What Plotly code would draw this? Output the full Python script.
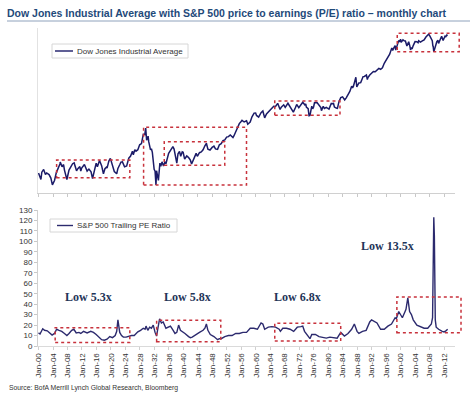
import plotly.graph_objects as go

# ---------------- data ----------------
dow_dates = [
 "1900-01","1900-06","1900-09","1900-12","1901-06","1901-12","1902-04","1902-12","1903-06","1903-11",
 "1904-06","1904-12","1905-06","1905-12","1906-01","1906-07","1906-12","1907-03","1907-11","1908-06",
 "1908-12","1909-06","1909-11","1910-07","1910-12","1911-06","1911-09","1911-12","1912-09","1912-12",
 "1913-06","1913-12","1914-07","1914-12","1915-06","1915-12","1916-04","1916-11","1917-06","1917-12",
 "1918-05","1918-10","1918-12","1919-06","1919-11","1920-04","1920-08","1920-12","1921-08","1921-12",
 "1922-06","1922-10","1923-03","1923-10","1924-05","1924-12","1925-06","1925-12","1926-03","1926-08",
 "1926-12","1927-06","1927-12","1928-06","1928-12","1929-05","1929-08","1929-11","1930-04","1930-06",
 "1930-12","1931-03","1931-06","1931-09","1931-12","1932-03","1932-06","1932-08","1932-12","1933-02",
 "1933-07","1933-10","1934-02","1934-07","1934-12","1935-03","1935-12","1936-06","1936-12","1937-02",
 "1937-06","1937-11","1938-03","1938-07","1938-12","1939-04","1939-09","1939-12","1940-05","1940-12",
 "1941-06","1941-12","1942-04","1942-12","1943-07","1943-11","1944-06","1944-12","1945-06","1945-12",
 "1946-05","1946-10","1947-05","1947-12","1948-06","1948-11","1949-06","1949-12","1950-06","1950-12",
 "1951-06","1951-12","1952-06","1952-12","1953-09","1953-12","1954-06","1954-12","1955-06","1955-12",
 "1956-03","1956-10","1957-06","1957-10","1958-06","1958-12","1959-07","1959-12","1960-03","1960-10",
 "1960-12","1961-06","1961-12","1962-06","1962-12","1963-06","1963-12","1964-06","1964-12","1965-06",
 "1965-12","1966-01","1966-09","1967-01","1967-09","1968-02","1968-11","1969-06","1969-12","1970-05",
 "1970-12","1971-04","1971-11","1972-06","1972-12","1973-07","1973-10","1973-12","1974-06","1974-09",
 "1974-12","1975-06","1975-09","1975-12","1976-03","1976-12","1977-06","1977-12","1978-02","1978-08",
 "1978-12","1979-06","1979-10","1980-03","1980-11","1980-12","1981-06","1981-09","1982-03","1982-07",
 "1982-12","1983-06","1983-12","1984-07","1984-12","1985-06","1985-12","1986-06","1986-09","1986-12",
 "1987-08","1987-11","1988-06","1988-12","1989-08","1989-12","1990-07","1990-10","1990-12","1991-06",
 "1991-12","1992-06","1992-12","1993-12","1994-06","1994-12","1995-06","1995-12","1996-06","1996-12",
 "1997-07","1997-10","1997-12","1998-06","1998-08","1998-12","1999-06","1999-09","1999-12","2000-02",
 "2000-08","2000-12","2001-04","2001-09","2001-12","2002-03","2002-07","2002-09","2002-12","2003-02",
 "2003-06","2003-12","2004-06","2004-10","2004-12","2005-06","2005-12","2006-06","2006-12","2007-06",
 "2007-09","2007-12","2008-03","2008-06","2008-09","2008-11","2008-12","2009-02","2009-06","2009-12",
 "2010-04","2010-06","2010-12","2011-04","2011-09","2011-12","2012-04","2012-05","2012-09","2012-12",
]
dow_values = [
 68,56,53,70,78,64,68,64,56,43,
 51,69,80,96,103,86,94,76,53,76,
 86,97,100,74,81,87,73,82,94,88,
 73,79,71,55,76,99,86,110,90,66,
 80,85,82,107,119,94,84,72,66,81,
 93,103,104,86,89,120,130,156,137,166,
 157,166,200,210,300,297,380,238,279,226,
 165,172,150,97,78,73,43,74,60,51,
 99,88,104,89,104,97,144,158,180,187,
 170,119,99,142,155,129,153,150,116,131,
 123,111,96,119,144,129,148,152,165,193,
 212,169,164,181,190,171,168,200,209,235,
 242,269,274,291,264,281,334,404,451,488,
 511,480,503,441,478,584,675,679,617,580,
 616,684,731,561,652,707,763,817,874,868,
 969,983,774,850,927,840,985,873,800,700,
 838,941,831,929,1020,926,956,851,802,608,
 616,879,794,852,1000,1005,916,831,742,877,
 805,842,816,786,993,964,977,850,822,809,
 1047,1222,1259,1115,1212,1336,1547,1893,1768,1896,
 2663,1834,2141,2169,2737,2753,2905,2442,2634,2907,
 3169,3319,3301,3754,3625,3834,4556,5117,5655,6448,
 8223,7442,7908,8952,7539,9181,10971,10337,11497,10128,
 11215,10788,10735,8848,10022,10404,8737,7592,8342,7891,
 8985,10454,10435,10027,10783,10275,10718,11150,12463,13409,
 13896,13265,12263,11350,10851,8829,8776,7063,8447,10428,
 11009,9774,11578,12811,10913,12218,13214,12393,13437,13104,
]

pe_dates = [
 "1900-01","1900-06","1901-03","1901-09","1902-06","1903-03","1903-10","1904-06","1905-01","1905-09",
 "1906-06","1907-03","1907-11","1908-06","1909-03","1909-10","1910-06","1911-03","1911-09","1912-06",
 "1913-06","1914-06","1915-03","1915-12","1916-09","1917-06","1918-03","1918-12","1919-09","1920-06",
 "1921-03","1921-08","1921-12","1922-06","1922-12","1923-06","1924-03","1924-12","1925-09","1926-06",
 "1927-06","1928-03","1928-12","1929-06","1929-09","1930-03","1930-09","1931-03","1931-09","1932-03",
 "1932-08","1933-01","1933-06","1933-12","1934-06","1935-03","1935-09","1936-06","1937-03","1937-09",
 "1938-03","1938-09","1939-03","1939-09","1940-06","1941-06","1941-12","1942-06","1943-06","1944-06",
 "1945-06","1945-12","1946-05","1946-10","1947-06","1948-06","1949-06","1949-12","1950-06","1951-06",
 "1952-06","1953-06","1954-06","1955-06","1956-06","1957-06","1958-06","1959-06","1960-06","1961-06",
 "1961-12","1962-06","1963-06","1964-06","1965-06","1966-06","1966-10","1967-06","1968-06","1969-06",
 "1970-06","1971-06","1972-06","1972-12","1973-06","1974-06","1974-12","1975-06","1976-06","1977-06",
 "1978-06","1979-06","1980-06","1981-06","1982-06","1983-06","1983-12","1984-06","1985-06","1986-06",
 "1987-03","1987-12","1988-06","1989-06","1990-06","1991-06","1991-12","1992-06","1993-06","1994-06",
 "1995-06","1996-06","1997-06","1998-06","1998-10","1999-06","1999-12","2000-06","2001-03","2001-06",
 "2001-12","2002-06","2002-12","2003-06","2004-06","2005-06","2006-06","2007-06","2008-06","2008-10",
 "2008-12","2009-02","2009-04","2009-07","2009-10","2010-06","2011-06","2011-12","2012-06","2012-12",
]
pe_values = [
 12.5,11.5,16.5,15,14.5,12,10.5,12,16,15,
 14,12,10,12,15,16,12.5,13,12,14,
 12.5,14,13,11,8,6,5.5,6.5,9,8,
 10,14,25,13,10,8.5,8.5,9.5,10,10,
 13.5,15,17,16,19,15,18,17,20,13,
 9.5,18,26,22,23,17,18,19,15,12,
 13,20,15,14,12,9,8,8.5,11,13,
 15,17,21,15,11,9,6,7,7,9,
 10,10,12,12,13,13,17,17,16,22,
 21,16,18,18.5,18,16,14,17,17,16,
 14,18,18.5,19,14,10,7,11,11,9,
 8,7.5,8.5,8,7.5,13,11,9.5,12,16,
 21,14,12,14,15,23,25,24,22,16,
 16,19,21,27,26,33,30,27,33,35,
 46,33,30,25,20,18.5,17,17,21,27,
 70,123,105,25,18,16,14,13.5,14.5,16,
]

series_names = ["Dow Jones Industrial Average", "S&P 500 Trailing PE Ratio"]
low_labels = ["Low 5.3x", "Low 5.8x", "Low 6.8x", "Low 13.5x"]
low_x = ["1913-12", "1941-03", "1971-08", "1996-05"]
low_y = [46.5, 46.5, 46.5, 95.6]
pe_ticks = list(range(0, 140, 10))
x_tick_dtick = "M48"

box_colour = "#C8323C"
ink = "#333333"
dow_colour = "#1B1B68"
pe_colour = "#2C2A6E"

# layout geometry (pixels of the 474x396 page)
W, H = 474, 396
L, R, T, B = 38, 455, 28, 346
PW, PH = R - L, B - T

x_range = ["1899-11-10", "2014-12-10"]
x0_year, x1_year = 1899.86, 2014.94


def xp(year):
    return (year - x0_year) / (x1_year - x0_year)


def px_x(p):
    return (p - L) / PW


def px_y(p):
    return 1 - (p - T) / PH


fig = go.Figure()
fig.add_trace(go.Scatter(x=dow_dates, y=dow_values, mode="lines", name=series_names[0],
                         line=dict(color=dow_colour, width=1.5), xaxis="x", yaxis="y"))
fig.add_trace(go.Scatter(x=pe_dates, y=pe_values, mode="lines", name=series_names[1],
                         line=dict(color=pe_colour, width=1.4), xaxis="x2", yaxis="y2"))

axis_font = dict(family="Liberation Sans, Arial, sans-serif", size=8, color=ink)

fig.update_layout(
    width=W, height=H,
    margin=dict(l=L, r=W - R, t=T, b=H - B, autoexpand=False),
    paper_bgcolor="white", plot_bgcolor="white",
    showlegend=False,
    title=dict(text="<b>Dow Jones Industrial Average with S&P 500 price to earnings (P/E) ratio – monthly chart</b>",
               x=7/W, xanchor="left", xref="container",
               y=1-13.5/H, yanchor="middle", yref="container", automargin=False,
               font=dict(family="Liberation Sans, Arial, sans-serif", size=10.5, color="#1F4A7A")),
    xaxis=dict(domain=[0, 1], anchor="y", type="date", range=x_range, automargin=False,
               tick0="1900-01-01", dtick=x_tick_dtick, ticks="outside", ticklen=3,
               tickcolor="#C8C8C8", showticklabels=False, showline=True,
               linecolor="#D0D0D0", linewidth=1, showgrid=False, zeroline=False),
    yaxis=dict(domain=[px_y(193), 1], anchor="x", type="log", range=[1.499, 4.246],
               automargin=False, showticklabels=False, ticks="", showline=True,
               linecolor="#E2E2E2", showgrid=False, zeroline=False),
    xaxis2=dict(domain=[0, 1], anchor="y2", type="date", range=x_range, automargin=False,
                tick0="1900-01-01", dtick=x_tick_dtick, tickformat="%b-%y",
                tickangle=-90, ticks="outside", ticklen=3, tickcolor="#D0D0D0",
                tickfont=axis_font, showline=True, linecolor="#DADADA",
                showgrid=False, zeroline=False),
    yaxis2=dict(domain=[0, px_y(210)], anchor="x2", range=[0, 130], automargin=False,
                tickvals=pe_ticks, ticks="outside", ticklen=3, tickcolor="#C8C8C8",
                tickfont=axis_font, showline=True, linecolor="#D0D0D0",
                showgrid=False, zeroline=False),
)

# title underline
fig.add_shape(type="line", xref="paper", yref="paper",
              x0=px_x(7), x1=px_x(470), y0=px_y(21), y1=px_y(21),
              line=dict(color="#8FA2BC", width=1))

# legends drawn as boxes: (box left, box right, box top, box bottom, line start, line end)
legend_boxes = [(52, 188, 44, 58, 55, 73), (50, 177, 219, 232, 57, 73)]
legend_colours = [dow_colour, pe_colour]
for (bl, br, bt, bb, ls, le), name, col in zip(legend_boxes, series_names, legend_colours):
    fig.add_shape(type="rect", xref="paper", yref="paper",
                  x0=px_x(bl), x1=px_x(br), y0=px_y(bb), y1=px_y(bt),
                  line=dict(color="#D6D6D6", width=1), fillcolor="white")
    ym = px_y((bt + bb) / 2)
    fig.add_shape(type="line", xref="paper", yref="paper",
                  x0=px_x(ls), x1=px_x(le), y0=ym, y1=ym, line=dict(color=col, width=1.4))
    fig.add_annotation(text=name, xref="paper", yref="paper", x=px_x(le + 1.5), y=ym,
                       xanchor="left", yanchor="middle", showarrow=False,
                       font=dict(family="Liberation Sans, Arial, sans-serif", size=8, color=ink))

# highlight boxes: (start year, end year, low value, high value)
dow_boxes = [(1905.0, 1925.2, 56.6, 111.7),
             (1929.0, 1957.4, 42.8, 391.5),
             (1934.7, 1951.4, 91.2, 225.4),
             (1965.2, 1983.2, 620, 1072),
             (1999.0, 2016.1, 7100, 14380)]
pe_boxes = [(1904.6, 1925.2, 3.3, 17.5),
            (1932.6, 1950.3, 4.1, 24.5),
            (1965.2, 1983.4, 4.8, 21.7),
            (1998.9, 2016.6, 12.7, 46.8)]
for (a, b, lo, hi) in dow_boxes:
    fig.add_shape(type="rect", xref="paper", yref="y", x0=xp(a), x1=xp(b), y0=lo, y1=hi,
                  line=dict(color=box_colour, width=1.5, dash="dot"))
for (a, b, lo, hi) in pe_boxes:
    fig.add_shape(type="rect", xref="paper", yref="y2", x0=xp(a), x1=xp(b), y0=lo, y1=hi,
                  line=dict(color=box_colour, width=1.5, dash="dot"))

for t, xx, yy in zip(low_labels, low_x, low_y):
    fig.add_annotation(text="<b>%s</b>" % t, x=xx, y=yy, xref="x2", yref="y2",
                       showarrow=False, xanchor="center", yanchor="middle",
                       font=dict(family="Liberation Serif, Times New Roman, serif",
                                 size=12, color="#1F3559"))

fig.add_annotation(text="Source: BofA Merrill Lynch Global Research, Bloomberg",
                   xref="paper", yref="paper", x=px_x(7), y=px_y(388),
                   xanchor="left", yanchor="middle", showarrow=False,
                   font=dict(family="Liberation Sans, Arial, sans-serif", size=6.8, color=ink))

# the page's default 8px body margin would push the figure off its 474x396 window
fig.write_html("out.html", config={"displayModeBar": False},
               post_script="document.body.style.margin='0';")
